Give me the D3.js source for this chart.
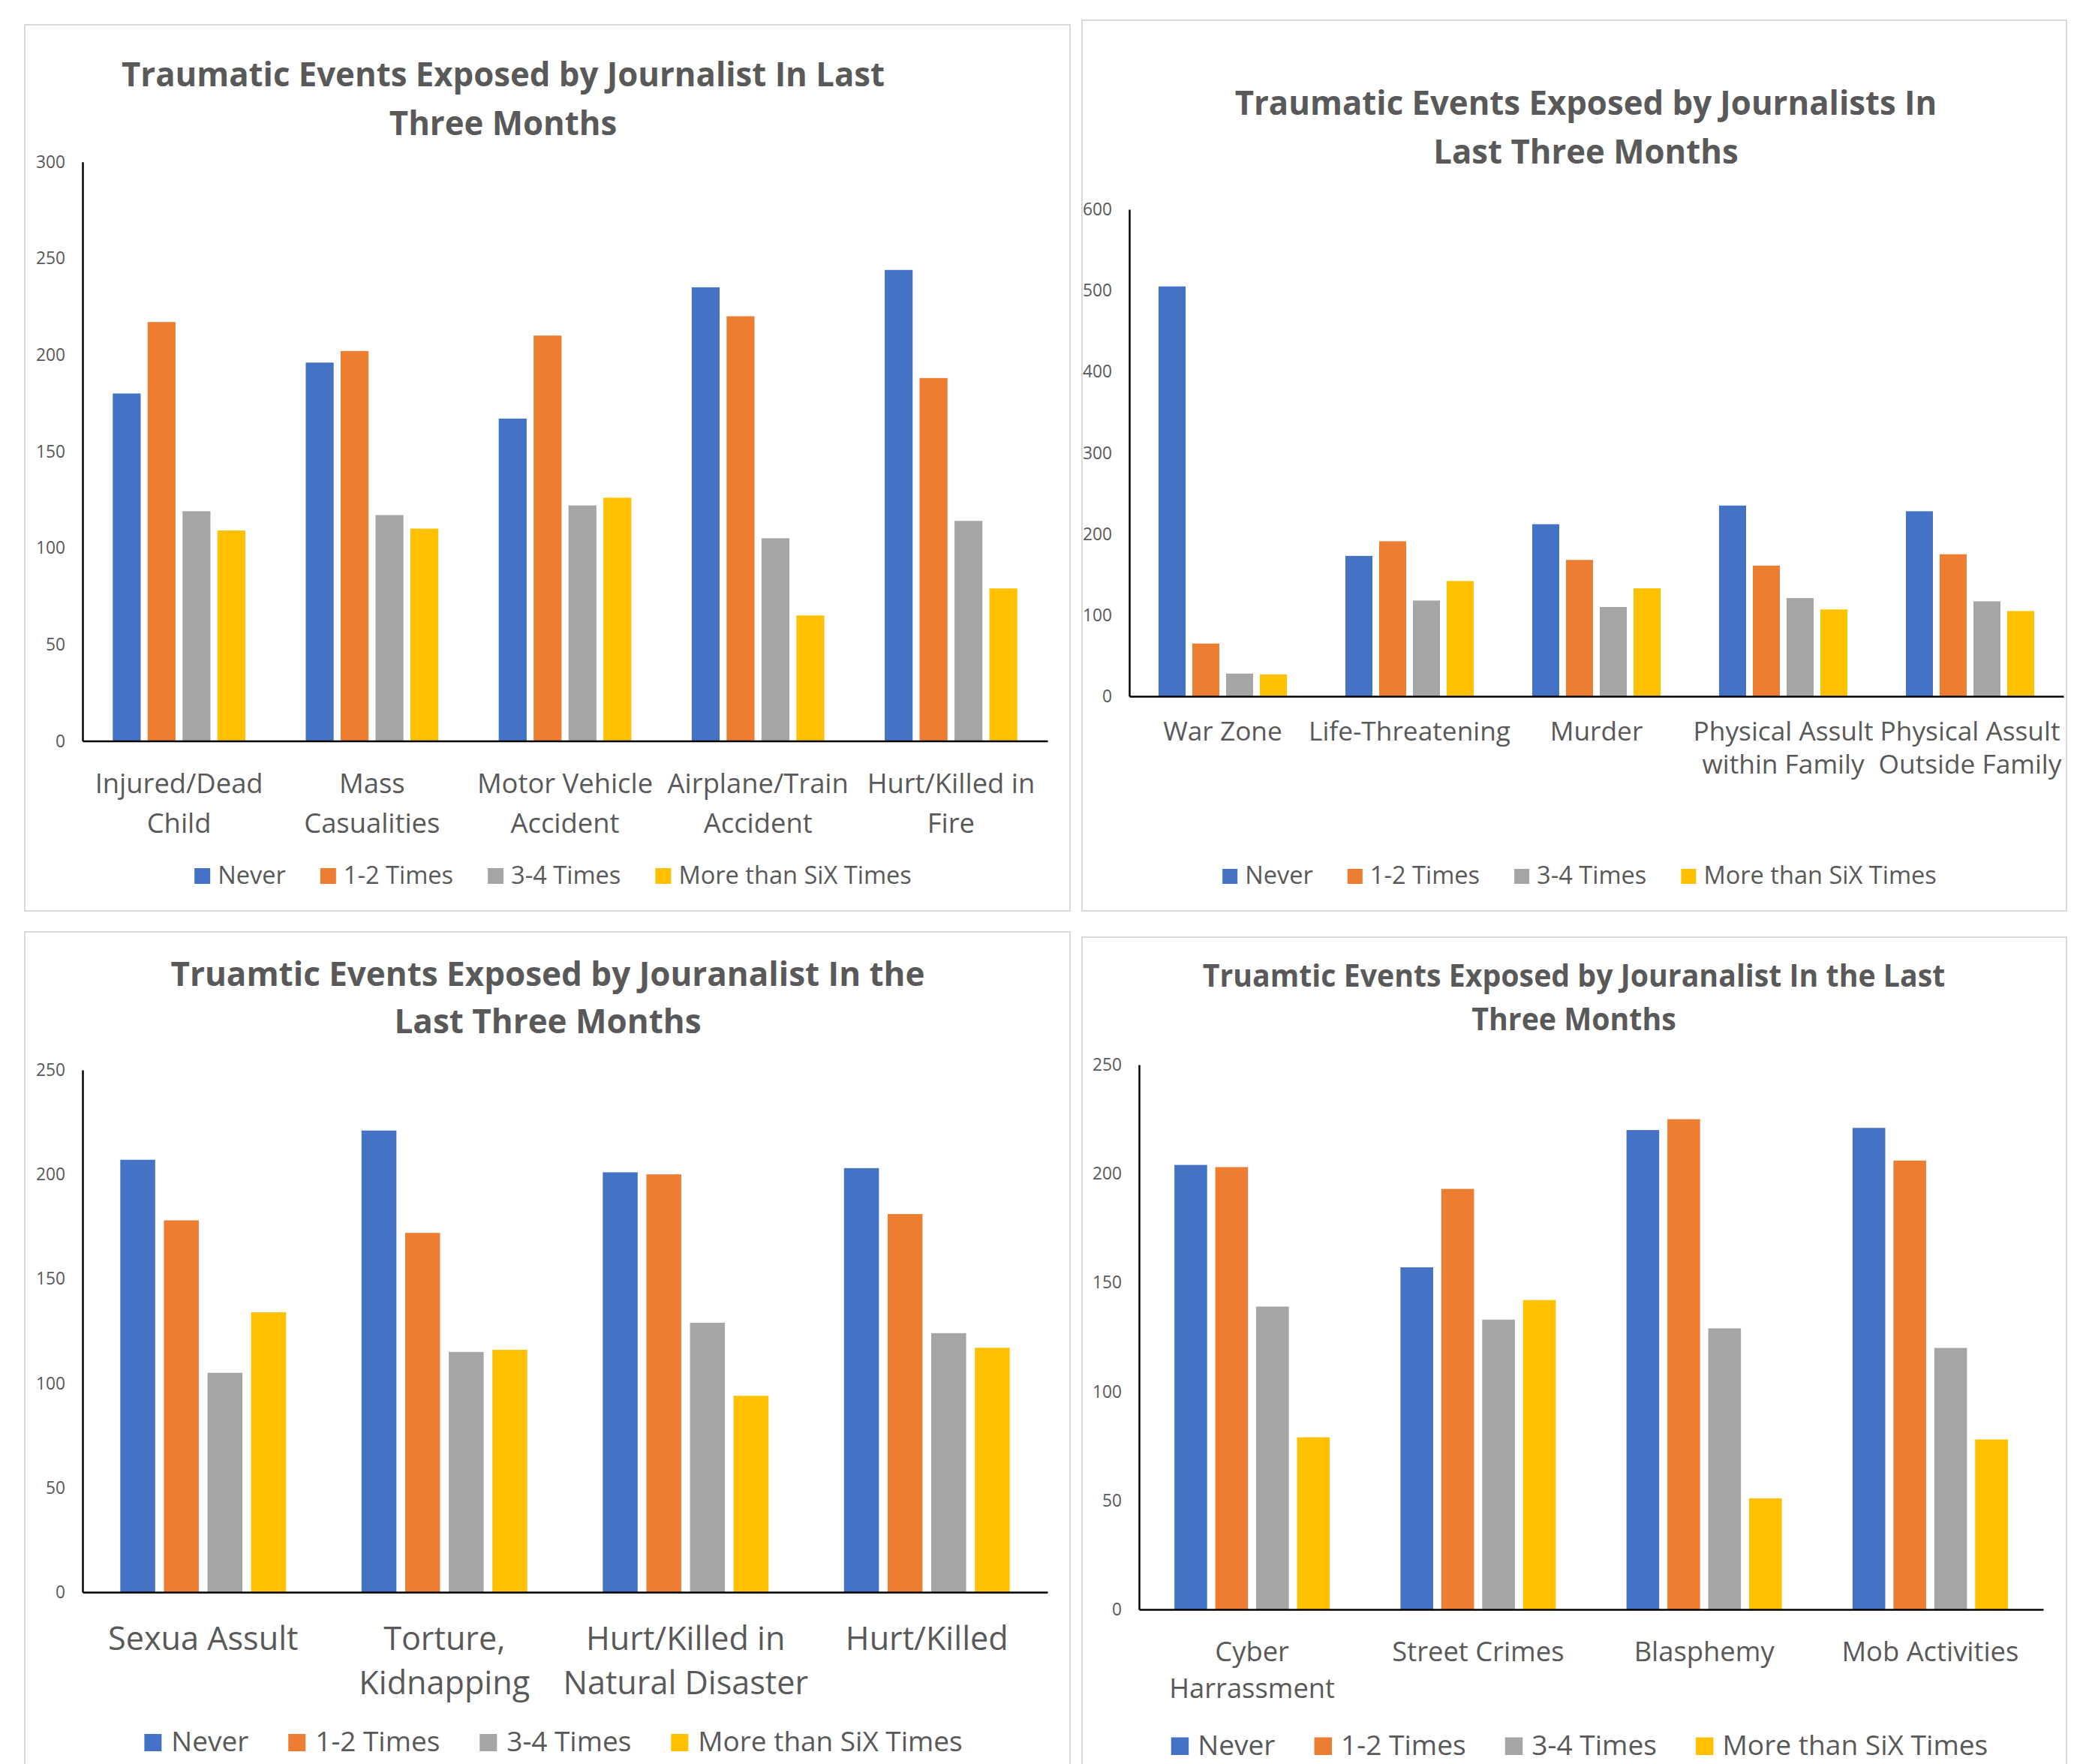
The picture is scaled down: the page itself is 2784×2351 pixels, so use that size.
<!DOCTYPE html>
<html>
<head>
<meta charset="utf-8">
<script src="https://cdn.jsdelivr.net/npm/d3@7"></script>
<style>
  html, body { margin: 0; padding: 0; background: #fff; }
  svg { display: block; }
</style>
</head>
<body>
<svg id="chart" width="2784" height="2351"></svg>
<script>
// ---- Shared series ----
const seriesNames = ["Never", "1-2 Times", "3-4 Times", "More than SiX Times"];
const seriesColors = ["#4472C4", "#ED7D31", "#A5A5A5", "#FFC000"];

// ---- Chart A: accidents and casualties ----
const titleA = ["Traumatic Events Exposed by Journalist In Last", "Three Months"];
const categoriesA = ["Injured/Dead\nChild", "Mass\nCasualities", "Motor Vehicle\nAccident", "Airplane/Train\nAccident", "Hurt/Killed in\nFire"];
const neverA     = [180, 196, 167, 235, 244];
const onceTwiceA = [217, 202, 210, 220, 188];
const threeFourA = [119, 117, 122, 105, 114];
const overSixA   = [109, 110, 126, 65, 79];
const ticksA = [0, 50, 100, 150, 200, 250, 300];

// ---- Chart B: violence ----
const titleB = ["Traumatic Events Exposed by Journalists In", "Last Three Months"];
const categoriesB = ["War Zone", "Life-Threatening", "Murder", "Physical Assult\nwithin Family", "Physical Assult\nOutside Family"];
const neverB     = [505, 173, 212, 235, 228];
const onceTwiceB = [65, 191, 168, 161, 175];
const threeFourB = [28, 118, 110, 121, 117];
const overSixB   = [27, 142, 133, 107, 105];
const ticksB = [0, 100, 200, 300, 400, 500, 600];

// ---- Chart C: assault, torture, disasters ----
const titleC = ["Truamtic Events Exposed by Jouranalist In the", "Last Three Months"];
const categoriesC = ["Sexua Assult", "Torture,\nKidnapping", "Hurt/Killed in\nNatural Disaster", "Hurt/Killed"];
const neverC     = [207, 221, 201, 203];
const onceTwiceC = [178, 172, 200, 181];
const threeFourC = [105, 115, 129, 124];
const overSixC   = [134, 116, 94, 117];
const ticksC = [0, 50, 100, 150, 200, 250];

// ---- Chart D: crime and unrest ----
const titleD = ["Truamtic Events Exposed by Jouranalist In the Last", "Three Months"];
const categoriesD = ["Cyber\nHarrassment", "Street Crimes", "Blasphemy", "Mob Activities"];
const neverD     = [204, 157, 220, 221];
const onceTwiceD = [203, 193, 225, 206];
const threeFourD = [139, 133, 129, 120];
const overSixD   = [79, 142, 51, 78];
const ticksD = [0, 50, 100, 150, 200, 250];

// ---- Layout (pixels) ----
const layoutA = {
  box: [33, 33, 1426, 1214],
  title: { cx: 670.5, base: [115, 180], cap: 32.3 },
  plot: { left: 110, right: 1396, top: 215.7, bottom: 987.5 },
  tickCap: 15, catCap: 24, catBase: [1056.7, 1110],
  legend: { cx: 737, base: 1178, cap: 21.5, square: 21, gap1: 10, gap2: 46 }
};
const layoutB = {
  box: [1442, 27, 2754, 1214],
  title: { cx: 2113.5, base: [153, 218], cap: 32.3 },
  plot: { left: 1505, right: 2750, top: 279, bottom: 928 },
  tickCap: 15, catCap: 23.3, catBase: [987, 1031],
  legend: { cx: 2105, base: 1178, cap: 21.5, square: 20, gap1: 10, gap2: 46 }
};
const layoutC = {
  box: [33, 1242, 1426, 2400],
  title: { cx: 730, base: [1314, 1377], cap: 32.5 },
  plot: { left: 110, right: 1396, top: 1426, bottom: 2122 },
  tickCap: 15, catCap: 28.5, catBase: [2199, 2258],
  legend: { cx: 737.5, base: 2334, cap: 24.4, square: 23, gap1: 13, gap2: 53 }
};
const layoutD = {
  box: [1442, 1249, 2754, 2400],
  title: { cx: 2097.5, base: [1315, 1373], cap: 29 },
  plot: { left: 1518, right: 2723, top: 1419, bottom: 2145 },
  tickCap: 15, catCap: 24, catBase: [2214, 2263],
  legend: { cx: 2105, base: 2339, cap: 24.5, square: 23.5, gap1: 12, gap2: 52 }
};

const charts = [
  { title: titleA, categories: categoriesA, series: [neverA, onceTwiceA, threeFourA, overSixA], ticks: ticksA, layout: layoutA },
  { title: titleB, categories: categoriesB, series: [neverB, onceTwiceB, threeFourB, overSixB], ticks: ticksB, layout: layoutB },
  { title: titleC, categories: categoriesC, series: [neverC, onceTwiceC, threeFourC, overSixC], ticks: ticksC, layout: layoutC },
  { title: titleD, categories: categoriesD, series: [neverD, onceTwiceD, threeFourD, overSixD], ticks: ticksD, layout: layoutD }
];

const svg = d3.select("#chart");
const FONT = "'Open Sans', Lato, sans-serif";
const CAP_RATIO = 0.714;      // cap height / em of the chosen face
const INK = "#595959";

// Width of a string in the chosen face, sized by cap height.
function naturalWidth(str, cap, weight) {
  const t = svg.append("text")
    .attr("font-family", FONT).attr("font-size", cap / CAP_RATIO).attr("font-weight", weight)
    .text(str);
  const w = t.node().getComputedTextLength();
  t.remove();
  return w;
}

// Regular text is scaled up uniformly; bold titles are narrowed.
const scaleNormal = 224 / naturalWidth("Injured/Dead", 24, 400);
const squeezeBold = 1017 / naturalWidth(titleA[0], 32.3, 700);

function fitText(sel, cap, weight) {
  const bold = weight >= 600;
  sel.attr("font-family", FONT)
    .attr("font-size", bold ? cap / CAP_RATIO : cap / CAP_RATIO * scaleNormal)
    .attr("font-weight", weight)
    .attr("fill", INK);
  let last = 0;
  sel.each(function () {
    let w = this.getComputedTextLength();
    if (bold) {
      w *= squeezeBold;
      d3.select(this).attr("textLength", w).attr("lengthAdjust", "spacingAndGlyphs");
    }
    last = w;
  });
  return last;
}

function drawChart(c) {
  const L = c.layout;
  const g = svg.append("g");

  // chart frame
  g.append("rect")
    .attr("x", L.box[0]).attr("y", L.box[1])
    .attr("width", L.box[2] - L.box[0]).attr("height", L.box[3] - L.box[1])
    .attr("fill", "#fff").attr("stroke", "#D9D9D9").attr("stroke-width", 2);

  // title
  c.title.forEach((line, i) => {
    const t = g.append("text")
      .attr("x", L.title.cx).attr("y", L.title.base[i])
      .attr("text-anchor", "middle").text(line);
    fitText(t, L.title.cap, 700);
  });

  // scales
  const x0 = d3.scaleBand().domain(c.categories)
    .range([L.plot.left, L.plot.right]).paddingInner(0.313).paddingOuter(0.1565);
  const x1 = d3.scaleBand().domain(seriesNames)
    .range([0, x0.bandwidth()]).paddingInner(0.2).paddingOuter(0);
  const y = d3.scaleLinear().domain([0, d3.max(c.ticks)]).range([L.plot.bottom, L.plot.top]);

  // clustered bars
  const groups = g.append("g").selectAll("g").data(c.categories).join("g")
    .attr("transform", d => `translate(${x0(d)},0)`);
  groups.selectAll("rect")
    .data((d, i) => seriesNames.map((s, j) => ({ s, v: c.series[j][i], color: seriesColors[j] })))
    .join("rect")
    .attr("x", d => x1(d.s))
    .attr("y", d => y(d.v))
    .attr("width", x1.bandwidth())
    .attr("height", d => y(0) - y(d.v))
    .attr("fill", d => d.color);

  // value axis
  const gy = g.append("g").attr("transform", `translate(${L.plot.left},0)`)
    .call(d3.axisLeft(y).tickValues(c.ticks).tickSize(0).tickPadding(23));
  gy.select(".domain").attr("stroke", "#000").attr("stroke-width", 2.5);
  const tickText = gy.selectAll(".tick text").attr("dy", `${L.tickCap / 2}px`);
  fitText(tickText, L.tickCap, 400);

  // category axis with wrapped labels
  const gx = g.append("g").attr("transform", `translate(0,${L.plot.bottom})`)
    .call(d3.axisBottom(x0).tickSize(0).tickFormat(""));
  gx.select(".domain").attr("stroke", "#000").attr("stroke-width", 2.5);
  gx.selectAll(".tick text").remove();
  gx.selectAll(".tick").each(function (d) {
    d.split("\n").forEach((line, i) => {
      const t = d3.select(this).append("text")
        .attr("x", 0).attr("y", L.catBase[i] - L.plot.bottom)
        .attr("text-anchor", "middle").text(line);
      fitText(t, L.catCap, 400);
    });
  });

  // legend
  const lg = L.legend;
  const entries = g.append("g").selectAll("g").data(seriesNames).join("g");
  entries.append("rect")
    .attr("width", lg.square).attr("height", lg.square)
    .attr("y", lg.base - lg.square)
    .attr("fill", (d, j) => seriesColors[j]);
  const widths = [];
  entries.append("text")
    .attr("x", lg.square + lg.gap1).attr("y", lg.base)
    .text(d => d)
    .each(function () { widths.push(fitText(d3.select(this), lg.cap, 400)); });
  const total = d3.sum(widths, w => lg.square + lg.gap1 + w) + lg.gap2 * (widths.length - 1);
  let cursor = lg.cx - total / 2;
  entries.attr("transform", (d, j) => {
    const tr = `translate(${cursor},0)`;
    cursor += lg.square + lg.gap1 + widths[j] + lg.gap2;
    return tr;
  });
}

charts.forEach(drawChart);
</script>
</body>
</html>
